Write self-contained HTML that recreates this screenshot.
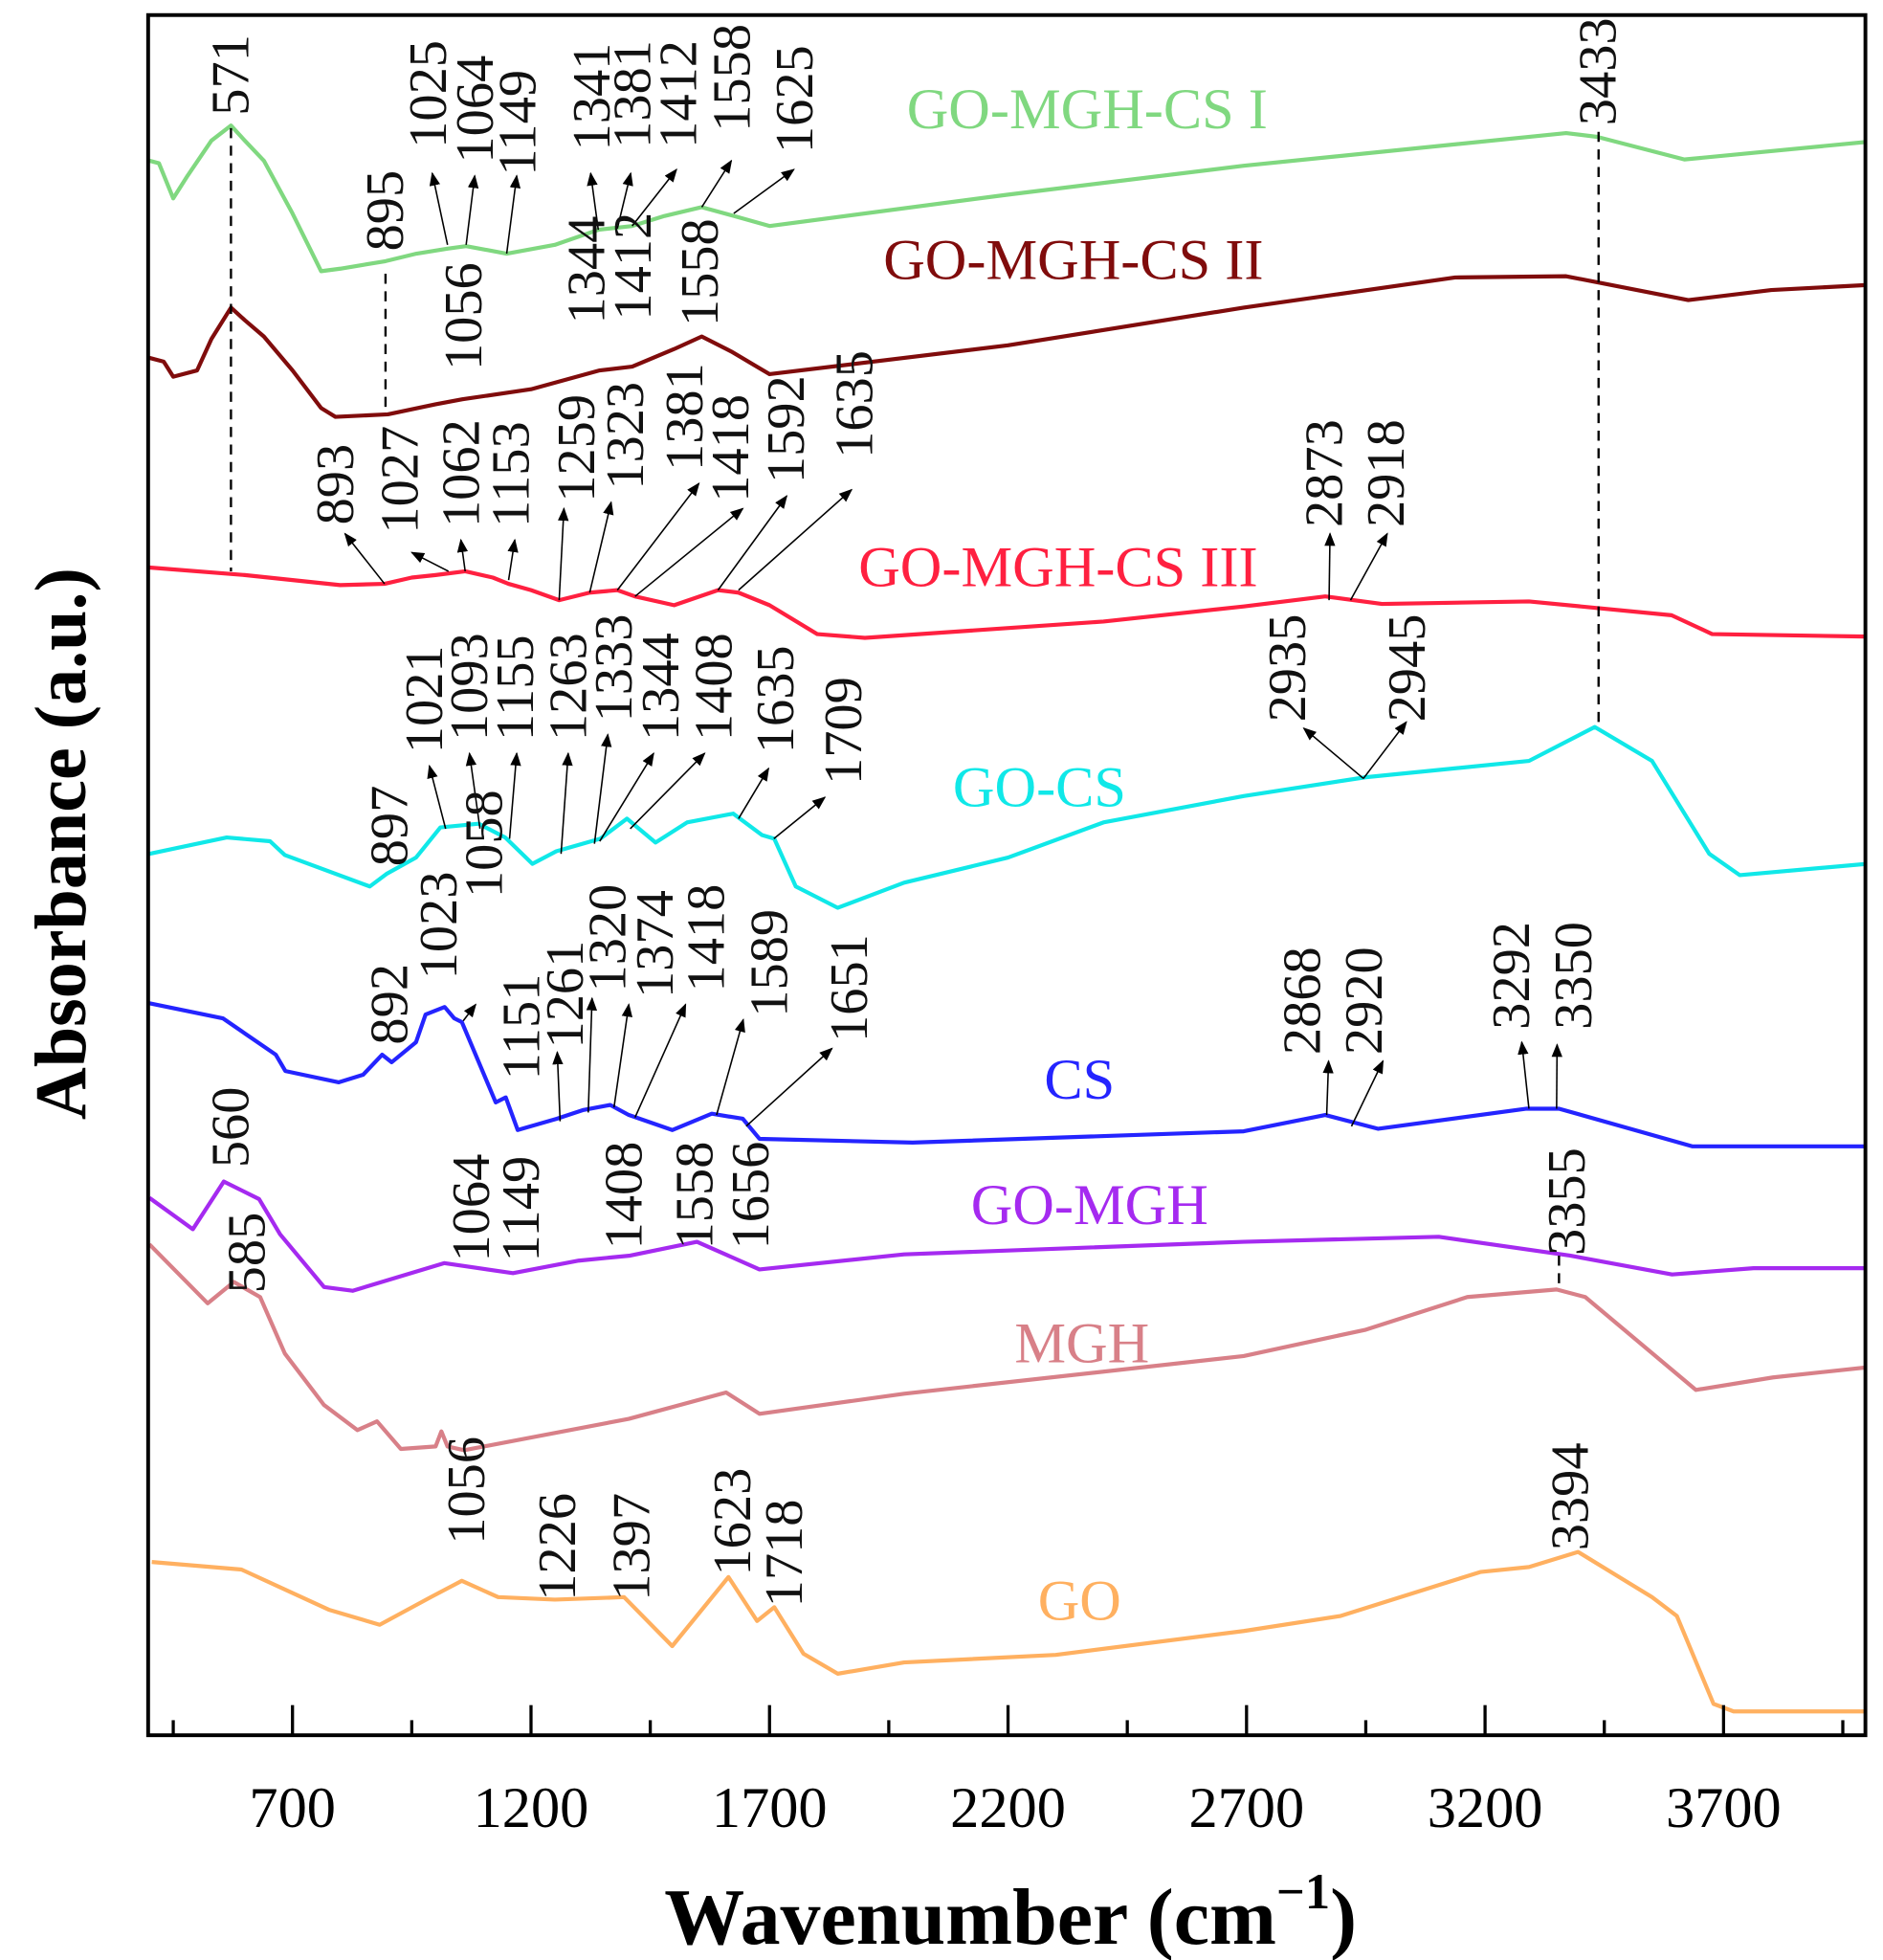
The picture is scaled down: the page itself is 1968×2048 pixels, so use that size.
<!DOCTYPE html>
<html><head><meta charset="utf-8"><title>FTIR spectra</title>
<style>html,body{margin:0;padding:0;background:#fff}svg{display:block}text{font-family:"Liberation Serif",serif}</style>
</head><body>
<svg id="chart" width="1968" height="2048" viewBox="0 0 1500 1561" xmlns="http://www.w3.org/2000/svg">
<defs><marker id="ah" viewBox="0 0 10 10" refX="9" refY="5" markerWidth="9" markerHeight="9" orient="auto"><path d="M0,1 L10,5 L0,9 z" fill="#000"/></marker>
<clipPath id="clip"><rect x="118" y="12" width="1368" height="1370"/></clipPath></defs>
<g id="plot" clip-path="url(#clip)"></g>
<g id="over"></g>
<rect x="118" y="12" width="1368" height="1370" fill="none" stroke="#000" stroke-width="3"/>
<g id="axes"></g>
<text x="805" y="1548" text-anchor="middle" font-size="64" font-weight="bold">Wavenumber (cm<tspan font-size="40" dy="-28">−1</tspan><tspan dy="28">)</tspan></text>
<text transform="rotate(-90 68 672)" x="68" y="672" text-anchor="middle" font-size="58" font-weight="bold">Absorbance (a.u.)</text>
</svg>
<script>
const NS="http://www.w3.org/2000/svg";
const tickValues=[700,1200,1700,2200,2700,3200,3700];
const minorTicks=[450,950,1450,1950,2450,2950,3450,3950];
const seriesNames=["GO-MGH-CS I","GO-MGH-CS II","GO-MGH-CS III","GO-CS","CS","GO-MGH","MGH","GO"];
const seriesColors=["#80d880","#800c0c","#ff2040","#10e8e8","#2424ff","#a52af0","#d88088","#ffb060"];
const wnI=[400,420,450,480,530,571,600,640,700,760,800,895,960,1025,1064,1149,1250,1341,1412,1480,1558,1625,1700,2200,2694,3370,3435,3618,4000];
const absI=[12.72,12.70,12.42,12.60,12.88,13.00,12.88,12.72,12.30,11.84,11.86,11.92,11.98,12.02,12.04,11.98,12.05,12.17,12.20,12.28,12.35,12.28,12.20,12.45,12.68,12.94,12.91,12.73,12.87];
const wnII=[400,430,450,500,530,571,600,640,700,760,790,900,1000,1056,1200,1344,1412,1500,1558,1620,1700,2200,2694,3137,3370,3626,3800,4000];
const absII=[11.15,11.12,11.00,11.05,11.30,11.55,11.45,11.32,11.05,10.75,10.68,10.70,10.78,10.82,10.90,11.05,11.08,11.22,11.32,11.20,11.02,11.25,11.55,11.79,11.80,11.61,11.69,11.73];
const wnIII=[400,600,800,893,950,1000,1062,1120,1153,1200,1259,1323,1381,1418,1500,1592,1635,1700,1800,1900,2400,2694,2865,2984,3292,3591,3676,4000];
const absIII=[9.48,9.42,9.34,9.35,9.40,9.42,9.45,9.40,9.35,9.30,9.22,9.28,9.30,9.25,9.18,9.30,9.28,9.18,8.95,8.92,9.05,9.17,9.25,9.19,9.21,9.10,8.95,8.93];
const wnGOCS=[400,562,653,684,862,897,959,1010,1090,1146,1203,1253,1345,1401,1461,1527,1624,1684,1710,1755,1843,1982,2200,2400,2694,2950,3292,3430,3550,3670,3734,4000];
const absGOCS=[7.20,7.33,7.30,7.19,6.94,7.04,7.17,7.41,7.44,7.33,7.12,7.22,7.32,7.48,7.29,7.45,7.52,7.35,7.32,6.94,6.77,6.97,7.17,7.45,7.66,7.81,7.94,8.21,7.94,7.20,7.03,7.12];
const wnCS=[400,554,665,685,797,848,888,908,959,979,1019,1039,1055,1126,1147,1172,1254,1310,1366,1405,1496,1579,1644,1679,2000,2694,2865,2976,3287,3355,3635,4000];
const absCS=[6.01,5.89,5.60,5.47,5.38,5.44,5.60,5.54,5.70,5.92,5.98,5.89,5.86,5.22,5.26,5.00,5.09,5.16,5.20,5.12,5.00,5.13,5.09,4.93,4.90,4.99,5.12,5.01,5.17,5.17,4.87,4.87];
const wnGOMGH=[400,491,556,630,674,766,826,1018,1162,1300,1408,1548,1679,1982,2694,3103,3378,3592,3763,4000];
const absGOMGH=[4.46,4.21,4.59,4.45,4.17,3.75,3.72,3.94,3.86,3.96,4.00,4.11,3.89,4.01,4.11,4.15,4.00,3.85,3.90,3.90];
const wnMGH=[400,522,577,632,684,766,836,877,927,1000,1012,1025,1060,1405,1609,1679,1982,2694,2950,3163,3350,3410,3642,3804,4000];
const absMGH=[4.09,3.62,3.79,3.67,3.22,2.81,2.61,2.68,2.46,2.48,2.60,2.48,2.45,2.70,2.91,2.74,2.90,3.20,3.41,3.67,3.73,3.67,2.93,3.03,3.11];
const wnGO=[405,593,776,883,990,1055,1131,1250,1395,1496,1614,1674,1710,1771,1843,1982,2300,2694,2897,3190,3292,3395,3550,3602,3679,3721,4000];
const absGO=[1.56,1.50,1.18,1.06,1.28,1.41,1.28,1.26,1.28,0.89,1.44,1.09,1.20,0.83,0.67,0.76,0.82,1.01,1.13,1.48,1.52,1.64,1.28,1.13,0.43,0.37,0.37];
const allWn=[wnI,wnII,wnIII,wnGOCS,wnCS,wnGOMGH,wnMGH,wnGO];
const allAbs=[absI,absII,absIII,absGOCS,absCS,absGOMGH,absMGH,absGO];
const nameWn=[2366,2337,2305,2266,2350,2371,2355,2350];
const nameAbs=[12.98,11.78,9.33,7.58,5.25,4.25,3.15,1.10];
const annLabels=["571","895","1025","1064","1149","1341","1381","1412","1558","1625","1056","1344","1412","1558","893","1027","1062","1153","1259","1323","1381","1418","1592","1635","2873","2918","897","1021","1093","1155","1263","1333","1344","1408","1635","1709","2935","2945","892","1023","1058","1151","1261","1320","1374","1418","1589","1651","2868","2920","3292","3350","560","585","1064","1149","1408","1558","1656","3355","1056","1226","1397","1623","1718","3394","3433"];
const annLabelWn=[571,895,985,1084,1173,1328,1414,1510,1622,1754,1060,1317,1415,1555,791,926,1055,1159,1296,1399,1523,1619,1736,1879,2864,2993,904,977,1072,1168,1279,1375,1473,1584,1714,1856,2787,3037,904,1007,1103,1181,1272,1362,1461,1568,1700,1868,2818,2947,3256,3386,571,605,1076,1180,1396,1544,1661,3372,1066,1256,1412,1623,1732,3379,3438];
const annLabelAbs=[13.08,12.00,12.82,12.70,12.60,12.80,12.82,12.82,12.95,12.78,11.05,11.42,11.45,11.40,9.82,9.75,9.80,9.80,10.00,10.10,10.25,10.00,10.15,10.35,9.80,9.80,7.10,8.00,8.10,8.10,8.10,8.25,8.10,8.10,8.00,7.75,8.25,8.25,5.68,6.20,6.85,5.40,5.65,6.10,6.05,6.10,5.90,5.70,5.60,5.60,5.80,5.80,4.70,3.70,3.95,3.95,4.05,4.05,4.05,4.00,1.70,1.25,1.25,1.45,1.20,1.65,13.00];
const annFromWn=[0,0,1025,1064,1149,1341,1381,1412,1558,1625,0,0,0,0,893,1027,1062,1153,1259,1323,1381,1418,1592,1635,2873,2918,0,1021,1093,1155,1263,1333,1344,1408,1635,1709,2945,2945,0,0,1058,0,1261,1320,1374,1418,1589,1651,2868,2920,3292,3350,0,0,0,0,0,0,0,0,0,0,0,0,0,0,0];
const annFromAbs=[0,0,12.05,12.05,11.98,12.17,12.18,12.20,12.35,12.30,0,0,0,0,9.35,9.45,9.45,9.38,9.22,9.28,9.30,9.25,9.30,9.30,9.22,9.22,0,7.40,7.40,7.32,7.20,7.28,7.30,7.40,7.48,7.32,7.80,7.80,0,0,5.87,0,5.07,5.14,5.18,5.10,5.12,5.03,5.12,5.03,5.17,5.17,0,0,0,0,0,0,0,0,0,0,0,0,0,0,0];
const annToWn=[0,0,993,1082,1170,1325,1409,1505,1620,1751,0,0,0,0,810,950,1053,1166,1269,1368,1552,1644,1736,1872,2875,2995,0,987,1071,1170,1278,1361,1457,1564,1698,1816,2820,3035,0,0,1084,0,1255,1328,1405,1524,1645,1831,2872,2986,3277,3351,0,0,0,0,0,0,0,0,0,0,0,0,0,0,0];
const annToAbs=[0,0,12.62,12.60,12.60,12.62,12.62,12.65,12.72,12.65,0,0,0,0,9.75,9.60,9.70,9.70,9.95,10.00,10.15,9.95,10.05,10.10,9.75,9.75,0,7.90,8.00,8.00,8.00,8.15,8.00,8.00,7.88,7.65,8.20,8.25,0,0,6.00,0,5.62,6.05,6.00,6.00,5.88,5.65,5.55,5.55,5.70,5.68,0,0,0,0,0,0,0,0,0,0,0,0,0,0,0];
const dashWn=[571,895,3438,3355];
const dashTop=[12.98,11.82,12.95,4.00];
const dashBot=[9.45,10.70,8.21,3.73];

const X0=118,X1=1486,YB=1382,YT=12;
function xScale(w){return 233+(w-700)*0.38;}
function yScale(v){return 1400-v*100;}
function mk(tag,parent,attrs){const e=document.createElementNS(NS,tag);for(const k in attrs)e.setAttribute(k,attrs[k]);parent.appendChild(e);return e;}
const plot=document.getElementById('plot'),over=document.getElementById('over'),axes=document.getElementById('axes');
allWn.forEach((wn,i)=>{
  const d=wn.map((w,j)=>(j?'L':'M')+xScale(w).toFixed(1)+','+yScale(allAbs[i][j]).toFixed(1)).join(' ');
  const p=mk('path',plot,{d:d,fill:'none',stroke:seriesColors[i],'stroke-width':3.2,'stroke-linejoin':'round'});
  
  
  const t=mk('text',over,{x:xScale(nameWn[i]),y:yScale(nameAbs[i]),'text-anchor':'middle','font-size':46,fill:seriesColors[i]});
  t.textContent=seriesNames[i];
  
  
});
dashWn.forEach((w,i)=>{
  const l=mk('line',over,{x1:xScale(w),x2:xScale(w),y1:yScale(dashTop[i]),y2:yScale(dashBot[i]),stroke:'#000','stroke-width':1.8,'stroke-dasharray':'8,6'});
  
  
});
annLabels.forEach((lab,i)=>{
  const x=xScale(annLabelWn[i]),y=yScale(annLabelAbs[i]);
  const t=mk('text',over,{x:x,y:y,transform:'rotate(-90 '+x+' '+y+')','font-size':43,'dominant-baseline':'central',fill:'#111'});
  t.textContent=lab;
  
  
  if(annFromWn[i]){
    const a=mk('line',over,{x1:xScale(annFromWn[i]),y1:yScale(annFromAbs[i]),x2:xScale(annToWn[i]),y2:yScale(annToAbs[i]),stroke:'#000','stroke-width':1.2,'marker-end':'url(#ah)'});
    
    
  }
});
tickValues.forEach(v=>{
  const x=xScale(v);
  const l=mk('line',axes,{x1:x,x2:x,y1:YB,y2:YB-24,stroke:'#000','stroke-width':2.5});
  
  
  const t=mk('text',axes,{x:x,y:1455,'text-anchor':'middle','font-size':46});
  t.textContent=v;
  
  
});
minorTicks.forEach(v=>{
  const x=xScale(v);if(x>X1)return;
  const l=mk('line',axes,{x1:x,x2:x,y1:YB,y2:YB-12,stroke:'#000','stroke-width':2.5});
  
  
});
</script>
</body></html>
